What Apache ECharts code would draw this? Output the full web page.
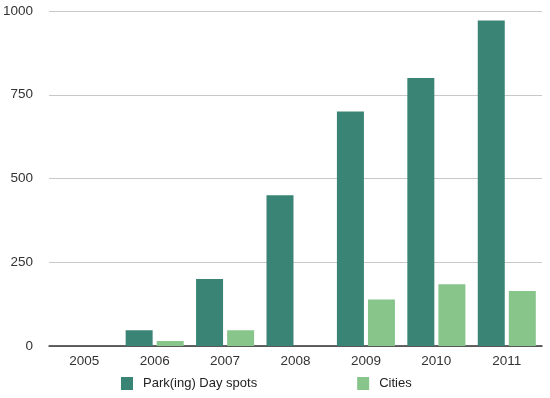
<!DOCTYPE html>
<html>
<head>
<meta charset="utf-8">
<script src="https://cdn.jsdelivr.net/npm/echarts@6/dist/echarts.min.js"></script>
<style>html,body{margin:0;padding:0;background:#fff}#c{width:550px;height:398px}</style>
</head>
<body>
<div id="c"></div>
<script>
var years = ['2005','2006','2007','2008','2009','2010','2011'];
var spots = [null, 47, 200, 450, 700, 800, 972];
var cities = [null, 15, 47, null, 139, 184, 164];
var yTicks = [0, 250, 500, 750, 1000];

var chart = echarts.init(document.getElementById('c'));
var font = 'Liberation Sans, Arial, Helvetica, sans-serif';
chart.setOption({
  animation: false,
  backgroundColor: '#fff',
  grid: {left: 48, right: 8, top: 11, bottom: 52},
  legend: {
    left: 121, top: 377, padding: 0, itemWidth: 12, itemHeight: 13, itemGap: 100, icon: 'rect',
    textStyle: {fontFamily: font, fontSize: 13, color: '#222', padding: [0,0,0,5]},
    data: ['Park(ing) Day spots', 'Cities']
  },
  xAxis: {
    type: 'category', data: years,
    axisLine: {lineStyle: {color: '#333', width: 1.5}},
    axisTick: {show: false},
    axisLabel: {fontFamily: font, fontSize: 13.5, color: '#333', margin: 8}
  },
  yAxis: {
    type: 'value', min: yTicks[0], max: yTicks[yTicks.length-1], interval: 250,
    axisLine: {show: false}, axisTick: {show: false},
    axisLabel: {fontFamily: font, fontSize: 13.5, color: '#333', margin: 16,
      formatter: function (v) { return String(v); }},
    splitLine: {lineStyle: {color: '#c8c8c8', width: 1}}
  },
  series: [
    {name: 'Park(ing) Day spots', type: 'bar', data: spots, barWidth: 27, barGap: '15%',
     itemStyle: {color: '#3a8475'}},
    {name: 'Cities', type: 'bar', data: cities, barWidth: 27,
     itemStyle: {color: '#87c58b'}}
  ]
});
</script>
</body>
</html>
